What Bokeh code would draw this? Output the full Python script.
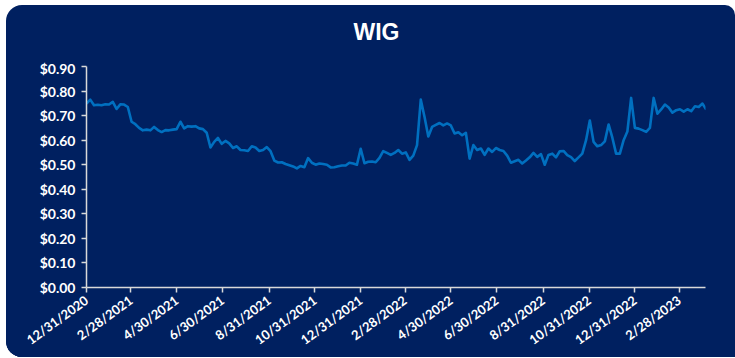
import pandas as pd
from bokeh.plotting import figure
from bokeh.layouts import column
from bokeh.models import Range1d, FixedTicker, NumeralTickFormatter, CustomJSTickFormatter, Div
from bokeh.embed import file_html
from bokeh.resources import INLINE

start_date = "2020-12-31"
step_days = 5
wig_values = [
    0.749, 0.765, 0.742, 0.744, 0.742, 0.746, 0.745, 0.756, 0.727, 0.746,
    0.745, 0.735, 0.675, 0.665, 0.650, 0.640, 0.643, 0.640, 0.654, 0.641,
    0.633, 0.641, 0.640, 0.643, 0.645, 0.675, 0.648, 0.657, 0.655, 0.657,
    0.648, 0.645, 0.630, 0.570, 0.593, 0.609, 0.585, 0.597, 0.587, 0.568,
    0.575, 0.560, 0.559, 0.556, 0.575, 0.570, 0.556, 0.560, 0.572, 0.555,
    0.517, 0.509, 0.510, 0.503, 0.498, 0.493, 0.485, 0.495, 0.490, 0.527,
    0.508, 0.500, 0.505, 0.503, 0.500, 0.489, 0.490, 0.494, 0.497, 0.497,
    0.508, 0.505, 0.500, 0.565, 0.506, 0.512, 0.513, 0.510, 0.528, 0.555,
    0.548, 0.540, 0.548, 0.560, 0.545, 0.550, 0.520, 0.537, 0.580, 0.765,
    0.694, 0.615, 0.654, 0.662, 0.670, 0.660, 0.668, 0.660, 0.627, 0.632,
    0.620, 0.630, 0.525, 0.580, 0.560, 0.566, 0.540, 0.566, 0.552, 0.568,
    0.560, 0.556, 0.537, 0.508, 0.514, 0.520, 0.505, 0.517, 0.530, 0.548,
    0.532, 0.543, 0.500, 0.540, 0.545, 0.530, 0.555, 0.556, 0.539, 0.531,
    0.515, 0.530, 0.545, 0.600, 0.680, 0.593, 0.575, 0.580, 0.595, 0.664,
    0.610, 0.545, 0.545, 0.600, 0.635, 0.772, 0.650, 0.647, 0.641, 0.634,
    0.650, 0.772, 0.708, 0.725, 0.745, 0.733, 0.712, 0.722, 0.726, 0.716,
    0.726, 0.718, 0.738, 0.735, 0.749, 0.725,
]
tick_labels = ["12/31/2020", "2/28/2021", "4/30/2021", "6/30/2021", "8/31/2021",
               "10/31/2021", "12/31/2021", "2/28/2022", "4/30/2022", "6/30/2022",
               "8/31/2022", "10/31/2022", "12/31/2022", "2/28/2023"]
y_ticks = [0.0, 0.1, 0.2, 0.3, 0.4, 0.5, 0.6, 0.7, 0.8, 0.9]
title_text = "WIG"

# ---- build ----
dates = pd.date_range(start_date, periods=len(wig_values), freq=f"{step_days}D")
t0 = pd.Timestamp(start_date)
x_end = t0 + pd.Timedelta(days=824)

NAVY = "#002060"
LINE = "#0070C0"
AXIS = "#D9D9D9"

title_div = Div(text=f'<span style="position:relative;left:6px">{title_text}</span>',
                width=729, height=54, margin=(0, 0, 0, 0),
                styles={"color": "white", "font-family": "Liberation Sans, Arial, sans-serif",
                        "font-weight": "bold", "font-size": "23px", "text-align": "center",
                        "line-height": "54px", "width": "729px", "display": "block"})

p = figure(width=729, height=298, x_axis_type="datetime",
           x_range=Range1d(t0, x_end), y_range=Range1d(0, 0.9),
           output_backend="svg", toolbar_location=None,
           min_border_left=80, min_border_right=30, min_border_top=7, min_border_bottom=70,
           background_fill_color=NAVY, border_fill_color=NAVY, margin=(0, 0, 0, 0))
p.outline_line_color = None
p.styles = {"background-color": NAVY}

p.line(dates, wig_values, line_color=LINE, line_width=2.6, line_join="round")

p.grid.visible = False

xa = p.xaxis[0]
tick_ms = [pd.to_datetime(t, format="%m/%d/%Y").value / 1e6 for t in tick_labels]
xa.ticker = FixedTicker(ticks=tick_ms)
xa.formatter = CustomJSTickFormatter(code="""
const d = new Date(tick);
return (d.getUTCMonth()+1) + "/" + d.getUTCDate() + "/" + d.getUTCFullYear();
""")
xa.major_label_orientation = 0.63
ya = p.yaxis[0]
ya.ticker = FixedTicker(ticks=y_ticks)
ya.formatter = NumeralTickFormatter(format="$0.00")

for ax in (xa, ya):
    ax.axis_line_color = AXIS
    ax.axis_line_width = 1.5
    ax.major_tick_line_color = AXIS
    ax.major_tick_line_width = 1.5
    ax.major_tick_in = 0
    ax.major_tick_out = 5
    ax.minor_tick_line_color = None
    ax.major_label_text_color = "white"
    ax.major_label_text_font = "Lato"
    ax.major_label_text_font_style = "bold"
    ax.major_label_text_font_size = "14px"
xa.major_label_text_font_size = "13px"
xa.major_label_standoff = 6
ya.major_label_standoff = 6

layout = column(title_div, p, spacing=0, margin=(5, 0, 0, 6),
                styles={"border-radius": "16px 10px 0px 16px", "overflow": "hidden",
                        "background-color": NAVY})

open("out.html", "w").write(file_html(layout, INLINE))
